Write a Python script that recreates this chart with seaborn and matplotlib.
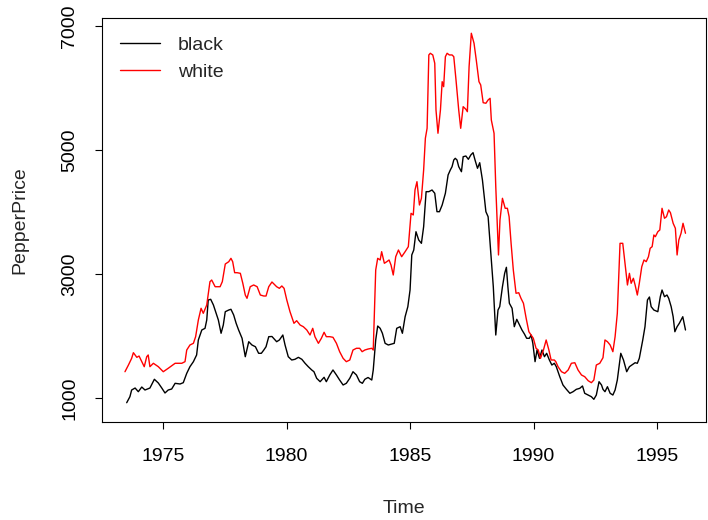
import numpy as np
import pandas as pd
import matplotlib
matplotlib.use("Agg")
import matplotlib.pyplot as plt
import seaborn as sns

# ---- data (year, price in USD/ton) ----
black_time = [1973.53, 1973.66, 1973.73, 1973.87, 1974.00, 1974.14, 1974.27, 1974.47, 1974.65, 1974.81,
              1974.95, 1975.08, 1975.21, 1975.35, 1975.49, 1975.69, 1975.82, 1975.96, 1976.09, 1976.23,
              1976.36, 1976.43, 1976.57, 1976.70, 1976.77, 1976.83, 1976.93, 1977.04, 1977.17, 1977.24,
              1977.35, 1977.44, 1977.52, 1977.66, 1977.75, 1977.86, 1977.96, 1978.06, 1978.20, 1978.27,
              1978.33, 1978.47, 1978.60, 1978.74, 1978.87, 1978.98, 1979.08, 1979.17, 1979.28, 1979.41,
              1979.60, 1979.71, 1979.85, 1979.94, 1980.07, 1980.21, 1980.34, 1980.48, 1980.62, 1980.75,
              1980.88, 1981.02, 1981.11, 1981.22, 1981.36, 1981.52, 1981.61, 1981.75, 1981.88, 1982.02,
              1982.15, 1982.29, 1982.42, 1982.56, 1982.69, 1982.83, 1982.96, 1983.07, 1983.17, 1983.30,
              1983.45, 1983.51, 1983.61, 1983.69, 1983.79, 1983.88, 1983.99, 1984.12, 1984.26, 1984.36,
              1984.46, 1984.60, 1984.69, 1984.80, 1984.91, 1985.00, 1985.07, 1985.15, 1985.24, 1985.35,
              1985.46, 1985.55, 1985.65, 1985.76, 1985.89, 1986.00, 1986.09, 1986.19, 1986.30, 1986.43,
              1986.54, 1986.63, 1986.70, 1986.77, 1986.83, 1986.90, 1986.97, 1987.08, 1987.15, 1987.26,
              1987.36, 1987.46, 1987.55, 1987.63, 1987.73, 1987.82, 1987.93, 1988.07, 1988.16, 1988.27,
              1988.37, 1988.47, 1988.56, 1988.63, 1988.74, 1988.83, 1988.90, 1988.96, 1989.02, 1989.13,
              1989.22, 1989.32, 1989.43, 1989.53, 1989.63, 1989.72, 1989.83, 1989.90, 1989.97, 1990.06,
              1990.14, 1990.24, 1990.34, 1990.44, 1990.53, 1990.64, 1990.74, 1990.84, 1990.92, 1991.06,
              1991.19, 1991.33, 1991.47, 1991.60, 1991.73, 1991.87, 1991.98, 1992.07, 1992.21, 1992.34,
              1992.44, 1992.54, 1992.65, 1992.75, 1992.81, 1992.89, 1992.99, 1993.10, 1993.21, 1993.30,
              1993.39, 1993.53, 1993.64, 1993.77, 1993.88, 1993.98, 1994.11, 1994.20, 1994.28, 1994.42,
              1994.51, 1994.61, 1994.69, 1994.76, 1994.87, 1995.03, 1995.13, 1995.20, 1995.30, 1995.40,
              1995.47, 1995.57, 1995.65, 1995.72, 1995.81, 1995.90, 1996.04, 1996.15]
black_price = [924, 1021, 1129, 1161, 1102, 1177, 1129, 1161, 1302, 1242,
               1161, 1081, 1129, 1145, 1237, 1226, 1247, 1398, 1505, 1586,
               1694, 1936, 2097, 2124, 2258, 2581, 2592, 2500, 2339, 2258,
               2044, 2177, 2392, 2419, 2431, 2339, 2205, 2097, 1963, 1802,
               1666, 1908, 1855, 1827, 1721, 1721, 1774, 1827, 1989, 1992,
               1908, 1936, 2016, 1855, 1666, 1613, 1624, 1656, 1624, 1560,
               1505, 1452, 1424, 1318, 1263, 1334, 1263, 1371, 1452, 1371,
               1290, 1210, 1237, 1318, 1424, 1371, 1263, 1237, 1302, 1331,
               1290, 1452, 1936, 2161, 2124, 2044, 1882, 1855, 1871, 1882,
               2124, 2150, 2044, 2311, 2473, 2742, 3307, 3387, 3682, 3549,
               3495, 3763, 4328, 4328, 4355, 4302, 4005, 4005, 4113, 4302,
               4597, 4678, 4731, 4839, 4866, 4839, 4731, 4650, 4892, 4903,
               4850, 4920, 4957, 4839, 4705, 4795, 4516, 4005, 3924, 3334,
               2795, 2016, 2419, 2473, 2795, 3011, 3108, 2795, 2528, 2447,
               2150, 2269, 2177, 2097, 2032, 1963, 1963, 2016, 1882, 1586,
               1774, 1640, 1774, 1666, 1721, 1613, 1532, 1560, 1505, 1344,
               1210, 1140, 1076, 1102, 1140, 1156, 1194, 1076, 1048, 1021,
               979, 1048, 1263, 1210, 1140, 1102, 1182, 1076, 1048, 1129,
               1290, 1721, 1613, 1424, 1505, 1532, 1569, 1560, 1640, 1936,
               2150, 2581, 2629, 2473, 2419, 2392, 2634, 2742, 2634, 2661,
               2608, 2473, 2311, 2069, 2150, 2205, 2311, 2097]

white_time = [1973.46, 1973.60, 1973.73, 1973.80, 1973.94, 1974.03, 1974.14, 1974.24, 1974.34, 1974.40,
              1974.47, 1974.61, 1974.81, 1975.01, 1975.21, 1975.49, 1975.76, 1975.89, 1975.96, 1976.09,
              1976.23, 1976.32, 1976.43, 1976.54, 1976.63, 1976.77, 1976.90, 1976.97, 1977.11, 1977.31,
              1977.40, 1977.52, 1977.66, 1977.75, 1977.82, 1977.90, 1978.00, 1978.13, 1978.23, 1978.33,
              1978.40, 1978.53, 1978.67, 1978.81, 1978.94, 1979.08, 1979.17, 1979.28, 1979.41, 1979.60,
              1979.71, 1979.81, 1979.90, 1980.01, 1980.14, 1980.30, 1980.41, 1980.55, 1980.68, 1980.82,
              1980.95, 1981.06, 1981.15, 1981.29, 1981.41, 1981.52, 1981.61, 1981.75, 1981.88, 1982.02,
              1982.15, 1982.29, 1982.42, 1982.56, 1982.69, 1982.83, 1982.96, 1983.06, 1983.17, 1983.30,
              1983.45, 1983.51, 1983.61, 1983.69, 1983.79, 1983.85, 1983.96, 1984.06, 1984.15, 1984.23,
              1984.32, 1984.42, 1984.53, 1984.66, 1984.80, 1984.93, 1985.04, 1985.13, 1985.20, 1985.28,
              1985.38, 1985.46, 1985.55, 1985.62, 1985.69, 1985.76, 1985.82, 1985.92, 1986.00, 1986.05,
              1986.13, 1986.23, 1986.30, 1986.36, 1986.43, 1986.50, 1986.59, 1986.70, 1986.77, 1986.86,
              1986.97, 1987.05, 1987.15, 1987.26, 1987.32, 1987.39, 1987.48, 1987.59, 1987.68, 1987.79,
              1987.86, 1987.96, 1988.07, 1988.16, 1988.24, 1988.29, 1988.40, 1988.47, 1988.58, 1988.64,
              1988.74, 1988.85, 1988.94, 1989.01, 1989.09, 1989.18, 1989.29, 1989.40, 1989.49, 1989.59,
              1989.70, 1989.81, 1989.90, 1989.99, 1990.10, 1990.19, 1990.28, 1990.40, 1990.51, 1990.62,
              1990.71, 1990.84, 1990.90, 1990.99, 1991.13, 1991.26, 1991.40, 1991.53, 1991.67, 1991.80,
              1991.94, 1992.07, 1992.21, 1992.34, 1992.44, 1992.54, 1992.68, 1992.81, 1992.89, 1992.99,
              1993.10, 1993.21, 1993.30, 1993.39, 1993.50, 1993.61, 1993.70, 1993.80, 1993.88, 1993.95,
              1994.04, 1994.11, 1994.20, 1994.28, 1994.38, 1994.47, 1994.56, 1994.65, 1994.72, 1994.80,
              1994.87, 1994.93, 1995.03, 1995.11, 1995.20, 1995.30, 1995.38, 1995.47, 1995.54, 1995.65,
              1995.74, 1995.81, 1995.88, 1995.97, 1996.05, 1996.15]
white_price = [1424, 1532, 1640, 1731, 1656, 1677, 1586, 1505, 1666, 1694,
               1505, 1560, 1505, 1424, 1479, 1560, 1560, 1586, 1774, 1855,
               1882, 1989, 2258, 2447, 2366, 2500, 2876, 2903, 2795, 2795,
               2876, 3161, 3198, 3253, 3198, 3021, 3021, 3011, 2850, 2661,
               2608, 2795, 2823, 2795, 2661, 2645, 2645, 2795, 2871, 2795,
               2769, 2807, 2769, 2581, 2392, 2205, 2247, 2177, 2150, 2097,
               2016, 2124, 1989, 1882, 1963, 2060, 1989, 1989, 1979, 1882,
               1747, 1640, 1586, 1613, 1774, 1802, 1802, 1747, 1774, 1790,
               1802, 1774, 3065, 3253, 3226, 3360, 3173, 3199, 3226, 3145,
               2984, 3279, 3387, 3279, 3360, 3441, 3979, 3952, 4355, 4489,
               4113, 4221, 4678, 5189, 5350, 6533, 6560, 6533, 6399, 5645,
               5270, 5645, 6102, 6021, 6505, 6560, 6533, 6533, 6505, 6130,
               5645, 5350, 5699, 5657, 5618, 6345, 6883, 6721, 6452, 6102,
               6049, 5763, 5754, 5807, 5834, 5484, 5270, 4408, 3307, 3871,
               4221, 4060, 4060, 3924, 3495, 3065, 2689, 2698, 2608, 2528,
               2286, 2069, 2016, 1963, 1802, 1774, 1640, 1774, 1936, 1774,
               1613, 1613, 1586, 1505, 1424, 1398, 1452, 1560, 1569, 1452,
               1371, 1344, 1279, 1247, 1290, 1532, 1560, 1650, 1936, 1908,
               1855, 1747, 1989, 2366, 3495, 3495, 3173, 2823, 3011, 2850,
               2931, 2823, 2661, 2850, 3118, 3226, 3199, 3279, 3415, 3441,
               3629, 3602, 3682, 3710, 4060, 3899, 3924, 4032, 3989, 3818,
               3737, 3307, 3549, 3657, 3818, 3657]

series_names = ["black", "white"]
series_colors = ["black", "red"]
x_ticks = [1975, 1980, 1985, 1990, 1995]
y_ticks = [1000, 3000, 5000, 7000]

df = pd.concat([
    pd.DataFrame({"Time": black_time, "PepperPrice": black_price, "series": "black"}),
    pd.DataFrame({"Time": white_time, "PepperPrice": white_price, "series": "white"}),
], ignore_index=True)

sns.set_theme(style="ticks")
plt.rcParams["font.family"] = ["Liberation Sans", "DejaVu Sans"]

FS = 14

fig = plt.figure(figsize=(7.08, 5.20), dpi=100)
ax = fig.add_axes([102 / 708, 98 / 520, 604 / 708, 404 / 520])

sns.lineplot(data=df, x="Time", y="PepperPrice", hue="series",
             hue_order=series_names, palette=series_colors,
             estimator=None, sort=False, linewidth=1.0, ax=ax, legend=True)

ax.set_xlim(1972.53, 1996.98)
ax.set_ylim(613, 7129)
ax.set_xticks(x_ticks)
ax.set_yticks(y_ticks)
ax.set_yticklabels([str(v) for v in y_ticks], rotation=90, va="center")
ax.tick_params(axis="both", direction="out", length=5, width=0.8, labelsize=FS,
               colors="black")
ax.tick_params(axis="x", pad=14)
ax.tick_params(axis="y", pad=12)
for s in ax.spines.values():
    s.set_visible(True)
    s.set_color("black")
    s.set_linewidth(0.8)

ax.set_xlabel("Time", fontsize=FS, labelpad=25)
ax.set_ylabel("PepperPrice", fontsize=FS, labelpad=24)

handles, labels = ax.get_legend_handles_labels()
ax.legend(handles, labels, loc="upper left", frameon=False, fontsize=FS,
          handlelength=2.06, handletextpad=0.93, labelspacing=0.5,
          borderaxespad=0, borderpad=0, bbox_to_anchor=(0.0298, 0.955))

fig.savefig("out.png", dpi=100)
